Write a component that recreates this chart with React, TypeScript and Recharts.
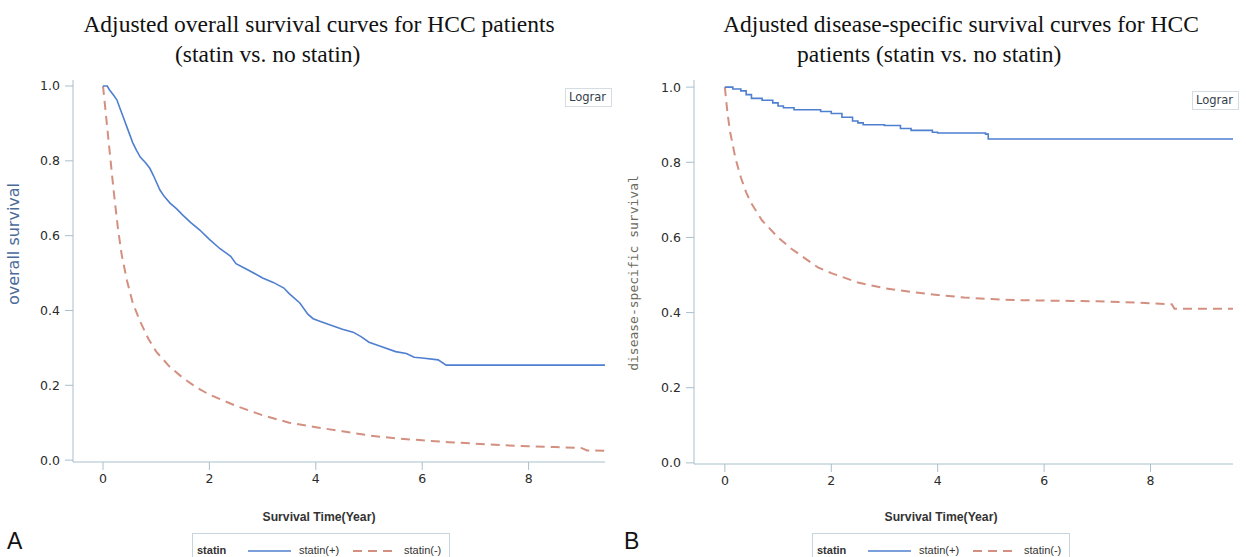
import React from "react";
import { LineChart, Line, XAxis, YAxis } from "recharts";

// ---------- data ----------
const xTicks = [0, 2, 4, 6, 8];
const yTicks = [0, 0.2, 0.4, 0.6, 0.8, 1.0];

// Panel A: overall survival
const osPlusT = [0, 0.08, 0.12, 0.2, 0.26, 0.32, 0.38, 0.45, 0.56, 0.63, 0.7, 0.8, 0.88, 0.95, 1.07, 1.15, 1.26, 1.38, 1.5, 1.65, 1.82, 2.0, 2.2, 2.4, 2.5, 2.7, 2.9, 3.0, 3.2, 3.4, 3.5, 3.7, 3.85, 3.95, 4.1, 4.3, 4.5, 4.7, 4.85, 5.0, 5.2, 5.5, 5.7, 5.85, 6.0, 6.3, 6.45, 9.44];
const osPlusV = [1.0, 1.0, 0.99, 0.975, 0.963, 0.94, 0.917, 0.89, 0.848, 0.828, 0.81, 0.795, 0.78, 0.76, 0.722, 0.705, 0.687, 0.672, 0.655, 0.635, 0.615, 0.59, 0.565, 0.545, 0.525, 0.51, 0.495, 0.487, 0.475, 0.46, 0.445, 0.42, 0.39, 0.378, 0.37, 0.36, 0.35, 0.342, 0.33, 0.315, 0.305, 0.29, 0.285, 0.275, 0.273, 0.268, 0.254, 0.254];
const osMinusT = [0, 0.05, 0.1, 0.15, 0.2, 0.28, 0.35, 0.45, 0.56, 0.7, 0.85, 1.0, 1.25, 1.5, 1.75, 2.0, 2.5, 3.0, 3.5, 4.0, 4.5, 5.0, 5.5, 6.0, 6.5, 7.0, 7.5, 8.0, 8.5, 9.0, 9.1, 9.44];
const osMinusV = [1.0, 0.93, 0.86, 0.79, 0.72, 0.62, 0.55, 0.48, 0.42, 0.37, 0.325, 0.29, 0.25, 0.22, 0.195, 0.175, 0.145, 0.12, 0.1, 0.088, 0.077, 0.066, 0.058, 0.053, 0.048, 0.044, 0.04, 0.037, 0.035, 0.032, 0.026, 0.025];

// Panel B: disease-specific survival
const dssPlusT = [0, 0.1, 0.15, 0.3, 0.4, 0.5, 0.7, 0.9, 1.0, 1.1, 1.3, 1.8, 2.0, 2.2, 2.4, 2.5, 2.6, 3.0, 3.3, 3.5, 3.9, 4.0, 4.9, 4.95, 9.55];
const dssPlusV = [1.0, 1.0, 0.995, 0.99, 0.98, 0.97, 0.965, 0.958, 0.95, 0.945, 0.94, 0.935, 0.93, 0.92, 0.91, 0.905, 0.9, 0.898, 0.89, 0.885, 0.88, 0.878, 0.875, 0.862, 0.862];
const dssMinusT = [0, 0.05, 0.1, 0.2, 0.3, 0.4, 0.5, 0.7, 1.0, 1.25, 1.5, 1.75, 2.0, 2.5, 3.0, 3.5, 4.0, 4.5, 5.0, 5.5, 6.0, 6.5, 7.0, 7.5, 8.0, 8.4, 8.45, 9.55];
const dssMinusV = [1.0, 0.93, 0.88, 0.81, 0.76, 0.72, 0.69, 0.645, 0.6, 0.57, 0.545, 0.52, 0.505, 0.48, 0.465, 0.455, 0.447, 0.44, 0.436, 0.433, 0.432, 0.431, 0.43, 0.428, 0.425, 0.422, 0.41, 0.41];

const zip = (t: number[], v: number[]) => t.map((x, i) => ({ t: x, v: v[i] }));

const BLUE = "#4f7fcf";
const RED = "#d39080";
const FRAME = "#a9bfcc";
const TICKFONT = { fontFamily: "DejaVu Sans", fontSize: 12.5, fill: "#2b2b2b" };

type PanelProps = {
  left: number;
  width: number;
  plotLeft: number;
  plotRight: number;
  plotTop: number;
  plotBottom: number;
  xDomain: [number, number];
  yDomain: [number, number];
  plus: { t: number; v: number }[];
  minus: { t: number; v: number }[];
  plusType: "linear" | "stepAfter";
};

const Y_AXIS_W = 50;
const X_AXIS_H = 30;

function Panel(p: PanelProps) {
  const margin = {
    top: p.plotTop,
    bottom: 557 - p.plotBottom - X_AXIS_H,
    left: p.plotLeft - p.left - Y_AXIS_W,
    right: p.left + p.width - p.plotRight,
  };
  return (
    <div style={{ position: "absolute", left: p.left, top: 0 }}>
      <LineChart width={p.width} height={557} margin={margin}>
        <XAxis
          xAxisId="b"
          dataKey="t"
          type="number"
          domain={p.xDomain}
          allowDataOverflow
          ticks={xTicks}
          height={X_AXIS_H}
          tickSize={8}
          tickMargin={4}
          stroke={FRAME}
          tick={TICKFONT}
        />
        <XAxis
          xAxisId="top"
          orientation="top"
          dataKey="t"
          type="number"
          domain={p.xDomain}
          allowDataOverflow
          height={0}
          tick={false}
          tickLine={false}
          stroke={FRAME}
        />
        <YAxis
          yAxisId="l"
          type="number"
          domain={p.yDomain}
          allowDataOverflow
          ticks={yTicks}
          width={Y_AXIS_W}
          tickSize={8}
          tickMargin={5}
          stroke={FRAME}
          tick={TICKFONT}
          tickFormatter={(v: number) => v.toFixed(1)}
        />
        <YAxis
          yAxisId="r"
          orientation="right"
          type="number"
          domain={p.yDomain}
          allowDataOverflow
          width={0}
          tick={false}
          tickLine={false}
          stroke={FRAME}
        />
        <Line
          xAxisId="b"
          yAxisId="l"
          data={p.minus}
          dataKey="v"
          type="linear"
          stroke={RED}
          strokeWidth={2}
          strokeDasharray="9 6"
          dot={false}
          isAnimationActive={false}
        />
        <Line
          xAxisId="b"
          yAxisId="l"
          data={p.plus}
          dataKey="v"
          type={p.plusType}
          stroke={BLUE}
          strokeWidth={1.6}
          dot={false}
          isAnimationActive={false}
        />
      </LineChart>
    </div>
  );
}

const abs = (s: React.CSSProperties): React.CSSProperties => ({ position: "absolute", whiteSpace: "nowrap", ...s });
const titleFont: React.CSSProperties = { fontFamily: "Liberation Serif", fontSize: 23.5, color: "#111", lineHeight: "26px" };
const labelFont: React.CSSProperties = { fontFamily: "Liberation Sans", fontWeight: "bold", fontSize: 12.2, color: "#333" };
const legFont: React.CSSProperties = { fontFamily: "Liberation Sans", fontSize: 11, color: "#333" };

function Legend({ left }: { left: number }) {
  return (
    <div style={abs({ left, top: 533, width: 256, height: 30, border: "1px solid #c9d5de", background: "#fff" })}>
      <span style={abs({ ...legFont, fontWeight: "bold", left: 4, top: 10 })}>statin</span>
      <svg style={{ position: "absolute", left: 0, top: 0 }} width={256} height={30}>
        <line x1={55} x2={98} y1={17} y2={17} stroke={BLUE} strokeWidth={1.5} />
        <line x1={160} x2={203} y1={17} y2={17} stroke={RED} strokeWidth={2} strokeDasharray="9 6" />
      </svg>
      <span style={abs({ ...legFont, left: 106, top: 10 })}>statin(+)</span>
      <span style={abs({ ...legFont, left: 211, top: 10 })}>statin(-)</span>
    </div>
  );
}

function Logrank({ left, top }: { left: number; top: number }) {
  return (
    <div style={abs({ left, top, width: 45, height: 17, border: "1px solid #d4dde3", background: "#fff" })}>
      <span style={abs({ fontFamily: "DejaVu Sans", fontSize: 11.5, color: "#34404a", left: 3, top: 1 })}>Lograr</span>
    </div>
  );
}

export default function App() {
  return (
    <div style={{ position: "absolute", left: 0, top: 0, width: 1246, height: 557, background: "#fff", overflow: "hidden" }}>
      <Panel
        left={0}
        width={620}
        plotLeft={73}
        plotRight={605}
        plotTop={80}
        plotBottom={462}
        xDomain={[-0.564, 9.436]}
        yDomain={[-0.005, 1.016]}
        plus={zip(osPlusT, osPlusV)}
        minus={zip(osMinusT, osMinusV)}
        plusType="linear"
      />
      <Panel
        left={620}
        width={626}
        plotLeft={694}
        plotRight={1233}
        plotTop={80}
        plotBottom={464}
        xDomain={[-0.58, 9.55]}
        yDomain={[-0.003, 1.019]}
        plus={zip(dssPlusT, dssPlusV)}
        minus={zip(dssMinusT, dssMinusV)}
        plusType="stepAfter"
      />

      {/* titles */}
      <div style={abs({ ...titleFont, left: 319, top: 11, transform: "translateX(-50%)" })}>Adjusted overall survival curves for HCC patients</div>
      <div style={abs({ ...titleFont, left: 175, top: 41 })}>(statin vs. no statin)</div>
      <div style={abs({ ...titleFont, left: 961, top: 11, transform: "translateX(-50%)" })}>Adjusted disease-specific survival curves for HCC</div>
      <div style={abs({ ...titleFont, left: 797, top: 41 })}>patients (statin vs. no statin)</div>

      {/* y-axis labels */}
      <div style={abs({ left: 13, top: 244, transform: "translate(-50%,-50%) rotate(-90deg)", fontFamily: "DejaVu Sans", fontSize: 16, color: "#4a6a98" })}>
        overall survival
      </div>
      <div style={abs({ left: 633, top: 273, transform: "translate(-50%,-50%) rotate(-90deg)", fontFamily: "DejaVu Sans Mono", fontSize: 13, color: "#6b6a5a" })}>
        disease-specific survival
      </div>

      {/* x-axis labels */}
      <div style={abs({ ...labelFont, left: 319, top: 510, transform: "translateX(-50%)" })}>Survival Time(Year)</div>
      <div style={abs({ ...labelFont, left: 941, top: 510, transform: "translateX(-50%)" })}>Survival Time(Year)</div>

      <Legend left={192} />
      <Legend left={812} />

      <Logrank left={565} top={88} />
      <Logrank left={1192} top={91} />

      <div style={abs({ left: 7, top: 528, fontFamily: "Liberation Sans", fontSize: 23, color: "#111" })}>A</div>
      <div style={abs({ left: 624, top: 528, fontFamily: "Liberation Sans", fontSize: 23, color: "#111" })}>B</div>
    </div>
  );
}
